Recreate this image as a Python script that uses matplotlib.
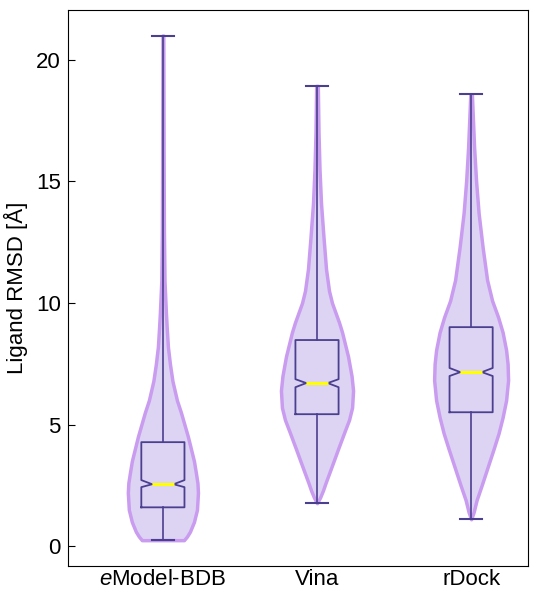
import numpy as np
import matplotlib.pyplot as plt

plt.rcParams['font.family'] = ['Liberation Sans', 'DejaVu Sans']
plt.rcParams['mathtext.fontset'] = 'custom'
plt.rcParams['mathtext.rm'] = 'Liberation Sans'
plt.rcParams['mathtext.it'] = 'Liberation Sans:italic'

# === data
methods = [r"$\it{e}$Model-BDB", "Vina", "rDock"]

# box statistics (RMSD, Angstrom)
whislo = [0.25, 1.77, 1.11]
q1 = [1.60, 5.43, 5.51]
med = [2.55, 6.71, 7.16]
q3 = [4.28, 8.48, 9.01]
whishi = [21.0, 18.93, 18.60]
cilo = [2.43, 6.54, 7.00]
cihi = [2.72, 6.87, 7.33]

# violin profiles (relative density vs RMSD)
emodel_y = [0.25, 0.4, 0.6, 1.0, 1.5, 2.2, 2.6, 3.0, 3.5, 4.0, 4.5, 5.0, 5.5, 6.0, 6.8, 7.5, 8.2, 9.0, 9.6, 10.9, 13.0, 16.0, 21.0]
emodel_d = [21, 24, 27, 31, 34, 35, 34.5, 33, 31, 28, 25, 21.5, 18, 14, 9.5, 7, 5, 3.8, 3, 1.6, 1.0, 0.7, 0.4]
vina_y = [1.77, 2.0, 2.3, 2.6, 3.1, 3.66, 4.0, 4.77, 5.2, 5.7, 6.4, 7.0, 7.8, 8.3, 8.8, 9.2, 9.6, 10.0, 10.5, 11.4, 12.7, 14.1, 15.5, 17.0, 18.93]
vina_d = [0, 3, 6, 8.5, 13, 18, 21, 28, 32, 35, 36, 34.5, 31, 28, 25, 22, 18.5, 15, 12, 9, 6.5, 4, 2.5, 1.5, 0.8]
rdock_y = [1.11, 1.4, 1.9, 2.5, 3.25, 4.0, 4.65, 5.3, 6.0, 6.83, 7.5, 8.07, 8.8, 9.42, 10.1, 10.95, 12.3, 13.7, 15.0, 16.4, 18.56]
rdock_d = [0, 2.5, 5.5, 10.5, 16.5, 22.5, 27.5, 31.5, 35, 37, 36.5, 35, 31.5, 27, 21, 16, 11.5, 7.5, 5, 3, 0.8]

profiles = [(emodel_y, emodel_d), (vina_y, vina_d), (rdock_y, rdock_d)]
violin_widths = [0.455, 0.468, 0.48]
positions = [1, 2, 3]

fig = plt.figure(figsize=(5.34, 5.91), dpi=100)
ax = fig.add_axes([0.127, 0.042, 0.862, 0.941])

vpstats = []
for i, (ys, ds) in enumerate(profiles):
    vpstats.append(dict(coords=np.array(ys), vals=np.array(ds, dtype=float),
                        mean=med[i], median=med[i], min=ys[0], max=ys[-1]))

parts = ax.violin(vpstats, positions=positions, widths=violin_widths,
                  showmeans=False, showextrema=False, showmedians=False)
for body in parts['bodies']:
    body.set_facecolor('#ddd4f4')
    body.set_edgecolor('#c99cf0')
    body.set_linewidth(2.5)
    body.set_alpha(1)
    body.set_zorder(1)

bxpstats = []
for i in range(3):
    bxpstats.append(dict(med=med[i], q1=q1[i], q3=q3[i], whislo=whislo[i],
                         whishi=whishi[i], cilo=cilo[i], cihi=cihi[i], fliers=[]))

dark = '#4b3f8f'
ax.bxp(bxpstats, positions=positions, widths=0.28, shownotches=True,
       showfliers=False, patch_artist=False,
       boxprops=dict(color=dark, lw=1.3),
       whiskerprops=dict(color=dark, lw=1.2),
       capprops=dict(color=dark, lw=1.5),
       medianprops=dict(color='#ffff00', lw=2.2),
       zorder=3)

ax.set_xlim(0.383, 3.37)
ax.set_ylim(-0.82, 22.05)
ax.set_yticks([0, 5, 10, 15, 20])
ax.set_xticks(positions)
ax.set_xticklabels(methods)
ax.tick_params(axis='y', direction='in', length=5, labelsize=16, pad=5)
ax.tick_params(axis='x', length=0, labelsize=16, pad=2)
ax.set_ylabel("Ligand RMSD [Å]", fontsize=16, labelpad=6)

fig.savefig("out.png", dpi=100)
